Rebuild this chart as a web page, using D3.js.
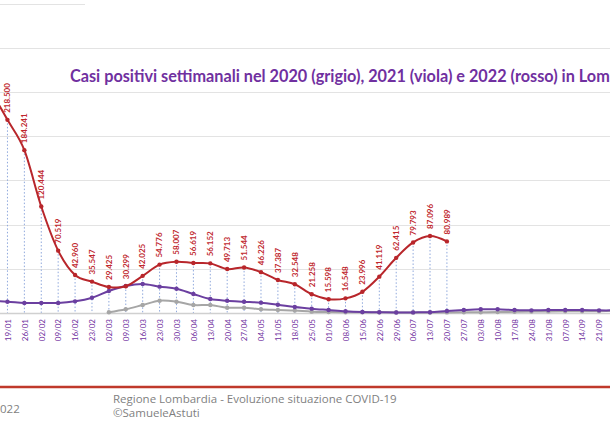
<!DOCTYPE html>
<html>
<head>
<meta charset="utf-8">
<script src="https://cdn.jsdelivr.net/npm/d3@7"></script>
<style>
html,body{margin:0;padding:0;background:#fff;overflow:hidden;}
svg{display:block;}
</style>
</head>
<body>
<svg id="c" width="610" height="431"></svg>
<script>
const categories = ["12/01","19/01","26/01","02/02","09/02","16/02","23/02","02/03","09/03","16/03","23/03","30/03","06/04","13/04","20/04","27/04","04/05","11/05","18/05","25/05","01/06","08/06","15/06","22/06","29/06","06/07","13/07","20/07","27/07","03/08","10/08","17/08","24/08","31/08","07/09","14/09","21/09","28/09"];
const values2022 = [252000,218500,184241,120444,70519,42960,35547,29425,30299,42025,54776,58007,56619,56152,49713,51544,46226,37387,32548,21258,15598,16548,23996,41119,62415,79793,87096,80989,null,null,null,null,null,null,null,null,null,null];
const values2021 = [13500,12800,11300,11300,11300,13200,17300,24900,30500,32800,29800,27500,21500,15800,13900,12800,11700,9400,6800,4900,3400,1900,1100,800,600,700,900,2300,3400,4200,4200,3400,3000,3400,3400,3400,3000,3000];
const values2020 = [null,null,null,null,null,null,null,800,4200,9000,13900,12800,9000,9000,6000,6000,4200,3400,2700,1500,1100,800,900,800,700,600,600,700,800,900,1000,1300,1600,1800,1900,2000,2100,2300];
const gridValues = [50000,100000,150000,200000,250000,300000];
const titleText = "Casi positivi settimanali nel 2020 (grigio), 2021 (viola) e 2022 (rosso) in Lombardia";
const footerLines = ["Regione Lombardia - Evoluzione situazione COVID-19","©SamueleAstuti"];
const footerLeft = "022";

const svg = d3.select("#c");
const x = d3.scalePoint().domain(categories).range([-9.44, 615.94]);
const y = d3.scaleLinear().domain([0, 350000]).range([313, 3.6]);
const fmt = v => d3.format(",")(v).replace(/,/g, ".");

// gridlines
svg.append("g").selectAll("line").data(gridValues).join("line")
  .attr("x1", 0).attr("x2", 610)
  .attr("y1", d => Math.round(y(d)) + 0.5).attr("y2", d => Math.round(y(d)) + 0.5)
  .attr("stroke", "#e3e3e3").attr("stroke-width", 1.2);
svg.append("line").attr("x1", 0).attr("x2", 85)
  .attr("y1", Math.round(y(350000)) + 0.5).attr("y2", Math.round(y(350000)) + 0.5)
  .attr("stroke", "#e3e3e3").attr("stroke-width", 1.2);

// drop lines
const maxAt = categories.map((c, i) => ({c, v: d3.max([values2022[i], values2021[i], values2020[i]])}));
svg.append("g").selectAll("line").data(maxAt).join("line")
  .attr("x1", d => x(d.c)).attr("x2", d => x(d.c))
  .attr("y1", d => y(d.v)).attr("y2", y(0))
  .attr("stroke", "#8fa8dc").attr("stroke-width", 1).attr("stroke-dasharray", "1.5,2");

// x axis
const xAxis = d3.axisBottom(x).tickSize(0).tickPadding(0);
const gx = svg.append("g").attr("transform", `translate(0,${y(0)})`).call(xAxis);
gx.select(".domain").attr("stroke", "#d0d0d0").attr("stroke-width", 1.5);
gx.selectAll("text")
  .attr("transform", "rotate(-90)")
  .attr("x", -6).attr("y", 0).attr("dy", "0.35em")
  .attr("text-anchor", "end")
  .attr("fill", "#7030a0")
  .style("font-family", "Lato, 'Open Sans', sans-serif")
  .style("font-size", "8px");

const line = d3.line().defined(d => d.v != null)
  .x(d => x(d.c)).y(d => y(d.v)).curve(d3.curveCardinal.tension(0));

const series = [
  {vals: values2020, color: "#a6a6a6"},
  {vals: values2021, color: "#6b3fa0"},
  {vals: values2022, color: "#b8262b"}
];
series.forEach(s => {
  const pts = categories.map((c, i) => ({c, v: s.vals[i]}));
  svg.append("path").datum(pts).attr("d", line)
    .attr("fill", "none").attr("stroke", s.color).attr("stroke-width", 2);
  svg.append("g").selectAll("circle").data(pts.filter(d => d.v != null)).join("circle")
    .attr("cx", d => x(d.c)).attr("cy", d => y(d.v)).attr("r", 2.2)
    .attr("fill", s.color);
});

// data labels for 2022 (those inside the visible frame)
const lab = categories.map((c, i) => ({c, v: values2022[i]})).filter(d => d.v != null && x(d.c) > 0);
svg.append("g").selectAll("text").data(lab).join("text")
  .attr("transform", d => `translate(${x(d.c)},${y(d.v) - 7}) rotate(-90)`)
  .attr("dy", "0.35em").attr("text-anchor", "start")
  .attr("fill", "#c0272d")
  .style("font-family", "Lato, 'Open Sans', sans-serif")
  .style("font-weight", "bold")
  .style("font-size", "8px")
  .text(d => fmt(d.v));

// title
const t = svg.append("text").attr("x", 70).attr("y", 82)
  .attr("fill", "#7030a0")
  .style("font-family", "Lato, 'Open Sans', sans-serif")
  .style("font-weight", "bold")
  .style("font-size", "16px")
  .text(titleText);
const prefixLen = titleText.indexOf("Lombardia") + 3;
const w = t.node().getSubStringLength(0, prefixLen);
t.style("font-size", (16 * 540 / w) + "px");

// bottom red rule
svg.append("line").attr("x1", 0).attr("x2", 610).attr("y1", 387).attr("y2", 387)
  .attr("stroke", "#c0392b").attr("stroke-width", 2.5);

// footer
svg.append("text").attr("x", 0).attr("y", 413).attr("fill", "#7f7f7f")
  .style("font-family", "'Open Sans', sans-serif").style("font-size", "11.5px").text(footerLeft);
svg.append("g").selectAll("text").data(footerLines).join("text")
  .attr("x", 113).attr("y", (d, i) => 403 + i * 14).attr("fill", "#7f7f7f")
  .style("font-family", "'Open Sans', sans-serif").style("font-size", "11.5px").text(d => d);
</script>
</body>
</html>
